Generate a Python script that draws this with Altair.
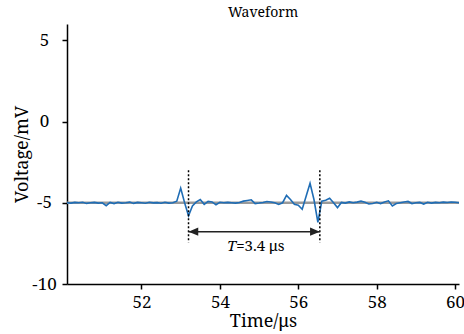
import altair as alt
import pandas as pd

# Waveform samples (time in µs, voltage in mV)
times = [50.1, 50.2, 50.3, 50.4, 50.5, 50.6, 50.7, 50.8, 50.9, 51.0,
         51.1, 51.2, 51.3, 51.4, 51.5, 51.6, 51.7, 51.8, 51.9, 52.0,
         52.1, 52.2, 52.3, 52.4, 52.5, 52.6, 52.7, 52.8, 52.9, 53.0,
         53.1, 53.2, 53.3, 53.4, 53.5, 53.6, 53.7, 53.8, 53.9, 54.0,
         54.1, 54.2, 54.3, 54.4, 54.5, 54.6, 54.7, 54.8, 54.9, 55.0,
         55.1, 55.2, 55.3, 55.4, 55.5, 55.6, 55.7, 55.8, 55.9, 56.0,
         56.1, 56.2, 56.3, 56.4, 56.5, 56.6, 56.7, 56.8, 56.9, 57.0,
         57.1, 57.2, 57.3, 57.4, 57.5, 57.6, 57.7, 57.8, 57.9, 58.0,
         58.1, 58.2, 58.3, 58.4, 58.5, 58.6, 58.7, 58.8, 58.9, 59.0,
         59.1, 59.2, 59.3, 59.4, 59.5, 59.6, 59.7, 59.8, 59.9, 60.0, 60.1]
voltage = [-5.0, -5.02, -4.98, -5.0, -4.97, -5.04, -5.0, -4.98, -5.02, -5.0,
           -5.18, -4.98, -5.05, -4.97, -5.02, -5.0, -4.96, -5.04, -4.98, -5.0,
           -5.03, -4.97, -5.01, -4.99, -5.03, -4.97, -5.02, -5.0, -4.9, -4.1,
           -5.0, -5.8, -5.2, -4.95, -4.8, -5.1, -4.92, -4.95, -5.12, -4.97,
           -5.0, -4.98, -5.0, -5.02, -4.98, -4.9, -4.86, -4.82, -5.05, -5.02,
           -4.98, -4.92, -4.95, -5.0, -5.1, -5.0, -4.55, -4.8, -5.1, -5.15,
           -5.4, -4.6, -3.8, -4.8, -6.2, -4.9, -4.85, -4.72, -5.0, -5.3,
           -4.98, -5.02, -4.95, -5.0, -4.96, -4.9, -4.97, -5.08, -5.05, -4.97,
           -5.05, -4.95, -4.88, -5.2, -5.05, -5.0, -4.95, -4.92, -5.05, -5.0,
           -4.98, -5.08, -4.97, -5.02, -4.98, -5.0, -4.96, -4.98, -4.95, -4.97, -5.0]

baseline_level = [-5.0]
marker_times = [53.2, 56.55]
marker_top = -3.0
marker_bottom = -7.45
arrow_level = -6.78
label_level = -7.95
x_ticks = [52, 54, 56, 58, 60]
y_ticks = [-10, -5, 0, 5]
x_domain = [50.1, 60.1]
y_domain = [-10, 6]

FONT = "Noto Serif"

wave = pd.DataFrame({"t": times, "v": voltage})
base_df = pd.DataFrame({"t": [x_domain[0], x_domain[1]], "v": baseline_level * 2})
markers = pd.DataFrame({"t": marker_times, "top": [marker_top] * 2, "bottom": [marker_bottom] * 2})
arrow_df = pd.DataFrame({"t1": [marker_times[0]], "t2": [marker_times[1]], "v": [arrow_level]})
left_head = pd.DataFrame({"t": [marker_times[0]], "v": [arrow_level]})
right_head = pd.DataFrame({"t": [marker_times[1]], "v": [arrow_level]})
label_df = pd.DataFrame({"t": [(marker_times[0] + marker_times[1]) / 2], "v": [label_level]})

xscale = alt.Scale(domain=x_domain, nice=False, zero=False)
yscale = alt.Scale(domain=y_domain, nice=False, zero=False)

x_axis = alt.Axis(values=x_ticks, title="Time/μs", grid=False, labelFont=FONT, titleFont=FONT,
                  labelFontSize=17, titleFontSize=18, titleFontWeight="normal",
                  labelColor="black", titleColor="black", domainColor="black", tickColor="black",
                  domainWidth=1.5, tickWidth=1.5, tickSize=5, labelPadding=5,
                  titleX=196, titleY=37, titleBaseline="middle", labelFlush=False)
y_axis = alt.Axis(values=y_ticks, title="Voltage/mV", grid=False, labelFont=FONT, titleFont=FONT,
                  labelFontSize=17, titleFontSize=18, titleFontWeight="normal",
                  labelColor="black", titleColor="black", domainColor="black", tickColor="black",
                  domainWidth=1.5, tickWidth=1.5, tickSize=5, labelPadding=18, labelAlign="center",
                  labelExpr="'' + datum.value", titleX=-45, titleY=130, titleBaseline="middle",
                  titleAngle=270, labelFlush=False)

ref = alt.Chart(base_df).mark_line(color="#9a9a9a", strokeWidth=2.5).encode(
    x=alt.X("t:Q", scale=xscale, axis=x_axis),
    y=alt.Y("v:Q", scale=yscale, axis=y_axis),
)

line = alt.Chart(wave).mark_line(color="#1f6db5", strokeWidth=1.6).encode(
    x=alt.X("t:Q", scale=xscale), y=alt.Y("v:Q", scale=yscale)
)

vlines = alt.Chart(markers).mark_rule(color="black", strokeWidth=1.5, strokeDash=[2, 2]).encode(
    x=alt.X("t:Q", scale=xscale), y=alt.Y("top:Q", scale=yscale), y2="bottom:Q"
)

arrow = alt.Chart(arrow_df).mark_rule(color="#222222", strokeWidth=1.5).encode(
    x=alt.X("t1:Q", scale=xscale), x2="t2:Q", y=alt.Y("v:Q", scale=yscale)
)

head_l = alt.Chart(left_head).mark_point(filled=True, color="#222222", opacity=1,
                                         shape="M0,0 L1,-0.42 L1,0.42 Z", size=380).encode(
    x=alt.X("t:Q", scale=xscale), y=alt.Y("v:Q", scale=yscale)
)
head_r = alt.Chart(right_head).mark_point(filled=True, color="#222222", opacity=1,
                                          shape="M0,0 L-1,-0.42 L-1,0.42 Z", size=380).encode(
    x=alt.X("t:Q", scale=xscale), y=alt.Y("v:Q", scale=yscale)
)

label_T = alt.Chart(label_df).mark_text(text="T", font=FONT, fontStyle="italic", fontSize=15,
                                        align="right", baseline="alphabetic", dx=-18, color="black").encode(
    x=alt.X("t:Q", scale=xscale), y=alt.Y("v:Q", scale=yscale)
)
label_rest = alt.Chart(label_df).mark_text(text="=3.4 μs", font=FONT, fontSize=15,
                                           align="left", baseline="alphabetic", dx=-18, color="black").encode(
    x=alt.X("t:Q", scale=xscale), y=alt.Y("v:Q", scale=yscale)
)

chart = alt.layer(ref, line, vlines, arrow, head_l, head_r, label_T, label_rest).properties(
    width=392, height=260,
    title=alt.TitleParams("Waveform", font=FONT, fontSize=14, fontWeight="normal", color="black",
                          anchor="middle", offset=4),
    autosize=alt.AutoSizeParams(type="none"),
    padding={"left": 67, "top": 24, "right": 5, "bottom": 50},
    background="white",
).configure_view(stroke=None)

chart.save("out.html", embed_options={"renderer": "svg", "actions": False})
